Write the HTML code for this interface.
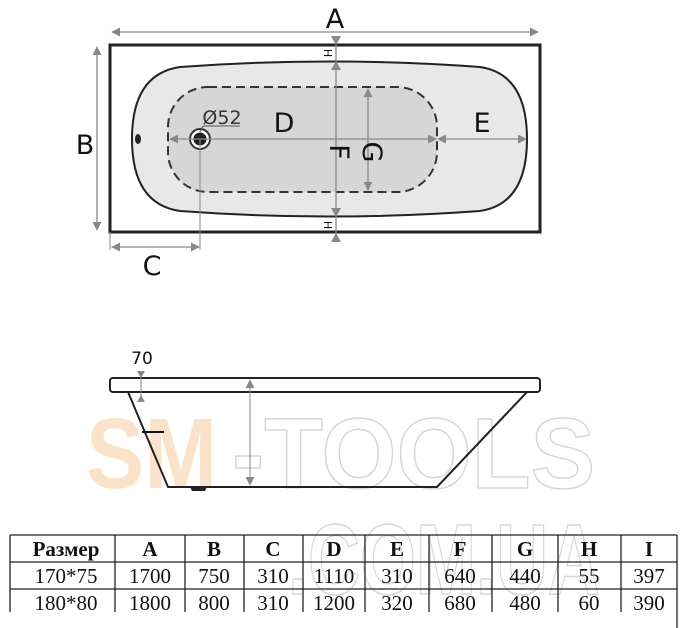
<!DOCTYPE html>
<html><head><meta charset="utf-8"><style>
html,body{margin:0;padding:0;background:#fff;}
svg{display:block;}
</style></head><body>
<svg width="681" height="628" viewBox="0 0 681 628" xmlns="http://www.w3.org/2000/svg" font-family="'DejaVu Sans','Liberation Sans',sans-serif">
<defs>
<marker id="ar" viewBox="0 0 10 10" refX="9" refY="5" markerWidth="9" markerHeight="9" markerUnits="userSpaceOnUse" orient="auto-start-reverse"><path d="M0,0 L10,5 L0,10 z" fill="#888"/></marker>
</defs>
<!-- watermark -->
<g font-family="'Liberation Sans',sans-serif" font-weight="bold" font-size="100">
<text x="86" y="488" textLength="131" lengthAdjust="spacingAndGlyphs" fill="#fbe3cb">SM</text>
<text x="232" y="488" textLength="363" lengthAdjust="spacingAndGlyphs" fill="none" stroke="#d6d6d6" stroke-width="1.5">-TOOLS</text>
<text x="288" y="594" textLength="312" lengthAdjust="spacingAndGlyphs" fill="none" stroke="#d6d6d6" stroke-width="1.5">.COM.UA</text>
</g>

<!-- top view -->
<rect x="110" y="45" width="430" height="187" fill="#fff" stroke="#222" stroke-width="3"/>
<path d="M180,67 Q330,56 480,67 Q527,74 527,139 Q527,204 480,211 Q330,222 180,211 Q132,204 132,139 Q132,74 180,67 Z" fill="#e8e8e8" stroke="#222" stroke-width="2"/>
<rect x="168" y="87" width="269" height="105" rx="40" fill="#d6d6d6" stroke="#333" stroke-width="2" stroke-dasharray="9,5"/>
<ellipse cx="138" cy="139" rx="3" ry="5" fill="#222"/>
<circle cx="200" cy="139" r="10" fill="#fff" stroke="#333" stroke-width="2"/>
<circle cx="200" cy="139" r="6.5" fill="#222"/>
<line x1="112" y1="32" x2="538" y2="32" stroke="#888" stroke-width="1.3" marker-start="url(#ar)" marker-end="url(#ar)"/>
<line x1="97" y1="47" x2="97" y2="230" stroke="#888" stroke-width="1.3" marker-start="url(#ar)" marker-end="url(#ar)"/>
<line x1="110" y1="232" x2="110" y2="250" stroke="#888" stroke-width="1"/>
<line x1="200" y1="139" x2="200" y2="250" stroke="#888" stroke-width="1"/>
<line x1="112" y1="247" x2="199" y2="247" stroke="#888" stroke-width="1.3" marker-start="url(#ar)" marker-end="url(#ar)"/>
<line x1="336" y1="36" x2="336" y2="242" stroke="#888" stroke-width="1.3"/>
<path d="M331,36 L341,36 L336,45 z M331,70 L341,70 L336,61 z M331,208 L341,208 L336,217 z M331,242 L341,242 L336,233 z" fill="#888"/>
<line x1="368" y1="89" x2="368" y2="190" stroke="#888" stroke-width="1.3" marker-start="url(#ar)" marker-end="url(#ar)"/>
<line x1="170" y1="139" x2="436" y2="139" stroke="#888" stroke-width="1.3" marker-start="url(#ar)" marker-end="url(#ar)"/>
<line x1="438" y1="139" x2="526" y2="139" stroke="#888" stroke-width="1.3" marker-start="url(#ar)" marker-end="url(#ar)"/>
<line x1="203" y1="126" x2="240" y2="126" stroke="#555" stroke-width="1"/>
<line x1="203" y1="126" x2="200" y2="132" stroke="#555" stroke-width="1"/>
<text x="335" y="28" font-size="27" text-anchor="middle" fill="#111">A</text>
<text x="85" y="154" font-size="27" text-anchor="middle" fill="#111">B</text>
<text x="152" y="275" font-size="27" text-anchor="middle" fill="#111">C</text>
<text x="284" y="132" font-size="27" text-anchor="middle" fill="#111">D</text>
<text x="482" y="132" font-size="27" text-anchor="middle" fill="#111">E</text>
<text x="222" y="124" font-size="19" text-anchor="middle" fill="#333">Ø52</text>
<text transform="translate(330,152) rotate(90)" font-size="27" text-anchor="middle" fill="#111">F</text>
<text transform="translate(363,152) rotate(90)" font-size="27" text-anchor="middle" fill="#111">G</text>
<text transform="translate(324,53) rotate(90)" font-size="11" text-anchor="middle" fill="#111">H</text>
<text transform="translate(324,225) rotate(90)" font-size="11" text-anchor="middle" fill="#111">H</text>

<!-- side view -->
<text x="142" y="364" font-size="17" text-anchor="middle" fill="#111">70</text>
<rect x="110" y="378" width="430" height="14" rx="3" fill="#fff" stroke="#222" stroke-width="2"/>
<path d="M128,392 L168,487 L437,487 L527,392" fill="none" stroke="#222" stroke-width="2"/>
<path d="M190,487 L207,487 L205,491 L192,491 z" fill="#222"/>
<line x1="142" y1="432" x2="164" y2="432" stroke="#111" stroke-width="2"/>
<line x1="250" y1="380" x2="250" y2="485" stroke="#888" stroke-width="1" marker-start="url(#ar)" marker-end="url(#ar)"/>
<line x1="141" y1="372" x2="141" y2="402" stroke="#888" stroke-width="1"/>
<path d="M137,371 L145,371 L141,378 z M137,402 L145,402 L141,395 z" fill="#888"/>

<!-- table -->
<g stroke="#222" stroke-width="1.3" fill="none">
<line x1="10" y1="535" x2="677" y2="535"/>
<line x1="10" y1="562" x2="677" y2="562"/>
<line x1="10" y1="589" x2="677" y2="589"/>
<line x1="10" y1="535" x2="10" y2="612"/>
<line x1="115" y1="535" x2="115" y2="612"/>
<line x1="185" y1="535" x2="185" y2="612"/>
<line x1="244" y1="535" x2="244" y2="612"/>
<line x1="303" y1="535" x2="303" y2="612"/>
<line x1="365" y1="535" x2="365" y2="612"/>
<line x1="429" y1="535" x2="429" y2="612"/>
<line x1="492" y1="535" x2="492" y2="612"/>
<line x1="558" y1="535" x2="558" y2="612"/>
<line x1="621" y1="535" x2="621" y2="612"/>
<line x1="677" y1="535" x2="677" y2="628"/>
</g>
<g font-family="'Liberation Serif',serif" font-size="21" text-anchor="middle" fill="#111">
<g font-weight="bold">
<text x="66" y="556">Размер</text><text x="150" y="556">A</text><text x="214" y="556">B</text><text x="273" y="556">C</text><text x="334" y="556">D</text><text x="397" y="556">E</text><text x="460" y="556">F</text><text x="525" y="556">G</text><text x="589" y="556">H</text><text x="649" y="556">I</text>
</g>
<text x="66" y="583">170*75</text><text x="150" y="583">1700</text><text x="214" y="583">750</text><text x="273" y="583">310</text><text x="334" y="583">1110</text><text x="397" y="583">310</text><text x="460" y="583">640</text><text x="525" y="583">440</text><text x="589" y="583">55</text><text x="649" y="583">397</text>
<text x="66" y="610">180*80</text><text x="150" y="610">1800</text><text x="214" y="610">800</text><text x="273" y="610">310</text><text x="334" y="610">1200</text><text x="397" y="610">320</text><text x="460" y="610">680</text><text x="525" y="610">480</text><text x="589" y="610">60</text><text x="649" y="610">390</text>
</g>
</svg>
</body></html>
